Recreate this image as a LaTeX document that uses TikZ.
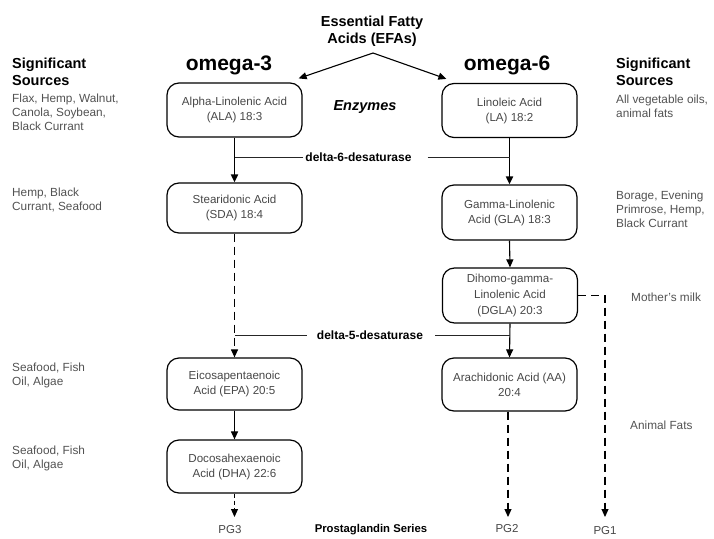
\documentclass[tikz,border=0pt]{standalone}
\usepackage{fontspec}
\setmainfont{Liberation Sans}
\usetikzlibrary{arrows.meta}
\begin{document}
\begin{tikzpicture}[x=1pt,y=-1pt,
  acid/.style={draw=black, line width=1.2pt, rounded corners=12pt, minimum width=135pt, minimum height=54pt, align=center, font=\fontsize{11.6}{15}\selectfont, text=black!72, inner sep=0pt},
  src/.style={anchor=north west, align=left, font=\fontsize{11.8}{14}\selectfont, text=black!68, inner sep=0pt},
  srcone/.style={anchor=west, font=\fontsize{11.8}{14}\selectfont, text=black!68, inner sep=0pt},
  head/.style={anchor=north west, align=left, font=\bfseries\fontsize{14.5}{17}\selectfont, inner sep=0pt},
  omega/.style={font=\bfseries\fontsize{21}{24}\selectfont, inner sep=0pt},
  enzlbl/.style={font=\bfseries\fontsize{12}{14}\selectfont, inner sep=2pt},
  pg/.style={font=\fontsize{11.5}{14}\selectfont, text=black!72, inner sep=0pt},
  tip/.style={-{Triangle[length=8pt,width=7pt]}},
  solidarrow/.style={tip, line width=1.1pt},
  thickarrow/.style={tip, line width=1.8pt},
  dasharrow/.style={tip, line width=1.1pt, dash pattern=on 8pt off 5pt},
  shortdash/.style={tip, line width=1.1pt, dash pattern=on 4pt off 3pt},
  enzline/.style={line width=0.9pt, black!85}
]
\useasboundingbox (0,0) rectangle (714,538);

% title
\node[font=\bfseries\fontsize{14.5}{17}\selectfont, align=center, inner sep=0pt] (efa) at (372,31) {Essential Fatty\\Acids (EFAs)};
\coordinate (apex) at (373,53);
\node[omega] (om3) at (229,65) {omega-3};
\node[omega] (om6) at (507,65) {omega-6};
\node[font=\bfseries\itshape\fontsize{14.5}{17}\selectfont, inner sep=0pt] (enz) at (365,107) {Enzymes};

% acid boxes
\node[acid] (ala) at (234.5,110) {Alpha-Linolenic Acid\\(ALA) 18:3};
\node[acid] (la) at (509.5,110.5) {Linoleic Acid\\(LA) 18:2};
\node[acid, minimum height=50pt] (sda) at (234.5,208) {Stearidonic Acid\\(SDA) 18:4};
\node[acid, minimum height=55pt] (gla) at (509.5,212.5) {Gamma-Linolenic\\Acid (GLA) 18:3};
\node[acid, minimum height=55pt, font=\fontsize{11.6}{16}\selectfont] (dgla) at (510,295.5) {Dihomo-gamma-\\Linolenic Acid\\(DGLA) 20:3};
\node[acid, minimum height=52pt] (epa) at (234.5,384) {Eicosapentaenoic\\Acid (EPA) 20:5};
\node[acid, minimum height=53pt] (dha) at (234.5,466.5) {Docosahexaenoic\\Acid (DHA) 22:6};
\node[acid, minimum height=53pt] (aa) at (509.5,384.5) {Arachidonic Acid (AA)\\20:4};

% EFA split
\draw[solidarrow] (apex) -- ([xshift=-4pt,yshift=4pt]ala.north east);
\draw[solidarrow] (apex) -- ([xshift=5pt,yshift=4pt]la.north west);

% main pathway arrows
\draw[thickarrow] (ala.south) -- (sda.north);
\draw[thickarrow] (la.south) -- (gla.north);
\draw[dasharrow] (sda.south) -- (epa.north);
\draw[solidarrow] (gla.south) -- (dgla.north);
\draw[solidarrow] (dgla.south) -- (aa.north);
\draw[solidarrow] (epa.south) -- (dha.north);

% enzymes
\node[enzlbl] (d6) at (358.5,157) {delta-6-desaturase};
\draw[enzline] (d6.west) -- (d6.west -| ala.south);
\draw[enzline] ([xshift=14pt]d6.east) -- (d6.east -| la.south);
\node[enzlbl] (d5) at (370,335) {delta-5-desaturase};
\draw[enzline] ([xshift=-8pt]d5.west) -- (d5.west -| sda.south);
\draw[enzline] ([xshift=10pt]d5.east) -- (d5.east -| dgla.south);

% prostaglandins
\node[font=\bfseries\fontsize{11.3}{14}\selectfont, inner sep=0pt] (pgs) at (371,530) {Prostaglandin Series};
\node[pg] (pg3) at (230,530) {PG3};
\node[pg] (pg2) at (507,529) {PG2};
\node[pg] (pg1) at (605,531) {PG1};
\draw[shortdash] (dha.south) -- (dha.south |- 0,517);
\coordinate (pg2top) at (508,517);
\draw[dasharrow] (aa.south -| pg2top) -- (pg2top);
\coordinate (pg1top) at (605,517);
\draw[dasharrow] (dgla.east) -- (dgla.east -| pg1top) -- (pg1top);

% significant sources
\node[head] (lhead) at (12,57.6) {Significant\\Sources};
\node[src] (lsrc1) at (12,94) {Flax, Hemp, Walnut,\\Canola, Soybean,\\Black Currant};
\node[src] (lsrc2) at (12,187.5) {Hemp, Black\\Currant, Seafood};
\node[src] (lsrc3) at (12,362.5) {Seafood, Fish\\Oil, Algae};
\node[src] (lsrc4) at (12,445.5) {Seafood, Fish\\Oil, Algae};
\node[head] (rhead) at (616,57.6) {Significant\\Sources};
\node[src] (rsrc1) at (616,94.5) {All vegetable oils,\\animal fats};
\node[src] (rsrc2) at (616,190.5) {Borage, Evening\\Primrose, Hemp,\\Black Currant};
\node[srcone] (rsrc3) at (631,297) {Mother's milk};
\node[srcone] (rsrc4) at (630,425) {Animal Fats};
\end{tikzpicture}
\end{document}
